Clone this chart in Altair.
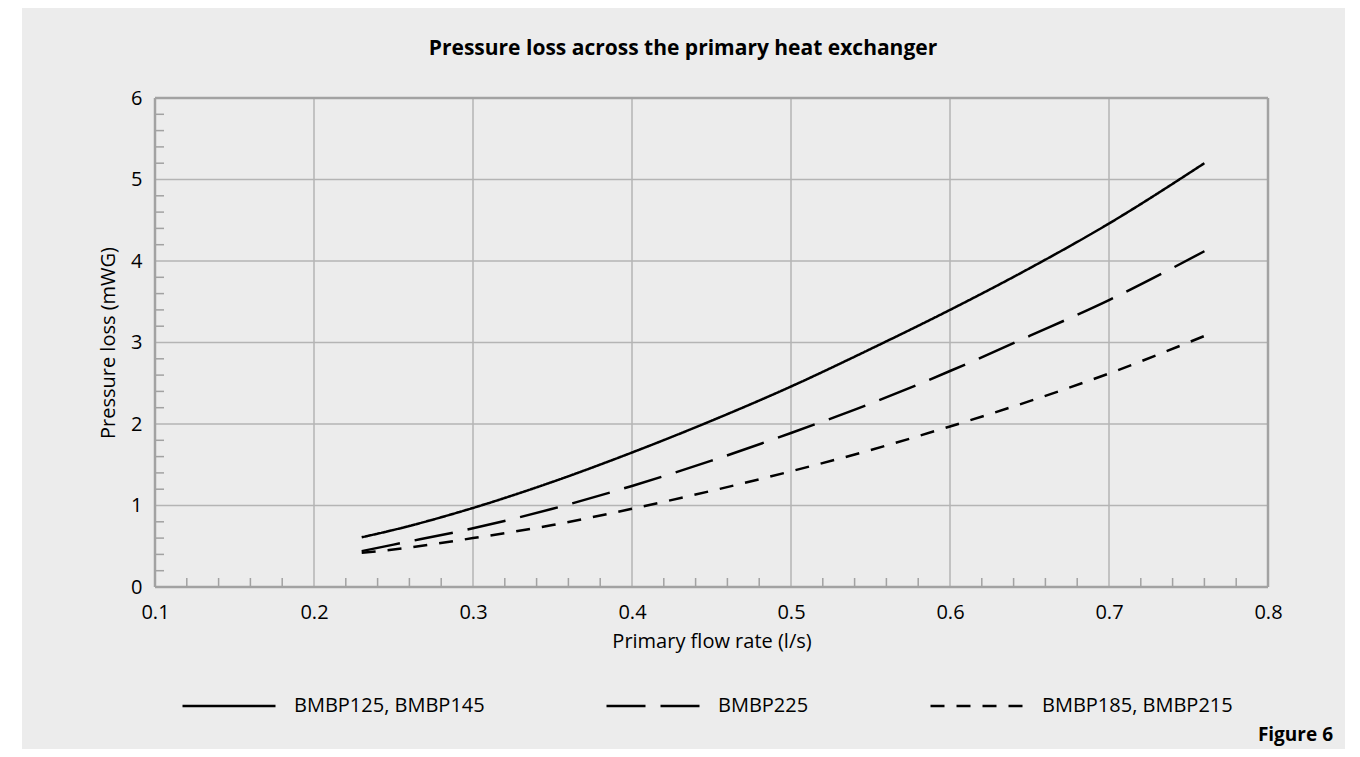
import altair as alt
import pandas as pd

# ---- data ----
flow = [0.23, 0.25, 0.30, 0.35, 0.40, 0.45, 0.50, 0.55, 0.60, 0.65, 0.70, 0.76]
bmbp125_145 = [0.61, 0.70, 0.97, 1.29, 1.65, 2.04, 2.46, 2.92, 3.40, 3.91, 4.46, 5.20]
bmbp225 = [0.44, 0.52, 0.72, 0.96, 1.24, 1.55, 1.89, 2.25, 2.65, 3.08, 3.52, 4.12]
bmbp185_215 = [0.42, 0.46, 0.60, 0.76, 0.96, 1.18, 1.42, 1.68, 1.97, 2.28, 2.62, 3.08]
series_names = ["BMBP125, BMBP145", "BMBP225", "BMBP185, BMBP215"]

x_major = [0.1, 0.2, 0.3, 0.4, 0.5, 0.6, 0.7, 0.8]
y_major = [0, 1, 2, 3, 4, 5, 6]
x_minor = [0.12, 0.14, 0.16, 0.18, 0.22, 0.24, 0.26, 0.28, 0.32, 0.34, 0.36, 0.38,
           0.42, 0.44, 0.46, 0.48, 0.52, 0.54, 0.56, 0.58, 0.62, 0.64, 0.66, 0.68,
           0.72, 0.74, 0.76, 0.78]
y_minor = [0.2, 0.4, 0.6, 0.8, 1.2, 1.4, 1.6, 1.8, 2.2, 2.4, 2.6, 2.8, 3.2, 3.4, 3.6, 3.8,
           4.2, 4.4, 4.6, 4.8, 5.2, 5.4, 5.6, 5.8]

title_text = "Pressure loss across the primary heat exchanger"
x_title = "Primary flow rate (l/s)"
y_title = "Pressure loss (mWG)"
figure_label = "Figure 6"

# ---- layout ----
W, H = 1113, 489
FONT = "Open Sans"
FS = 20
GRID = "#b4b4b4"
FRAME = "#a2a2a2"
PANEL = "#ececec"

rows = []
for name, vals in zip(series_names, [bmbp125_145, bmbp225, bmbp185_215]):
    for xv, yv in zip(flow, vals):
        rows.append({"x": xv, "y": yv, "series": name})
lines_df = pd.DataFrame(rows)

xscale = alt.Scale(domain=[0.1, 0.8], nice=False, zero=False)
yscale = alt.Scale(domain=[0, 6], nice=False, zero=False)

xaxis = alt.Axis(values=x_major, format=".1f", grid=False, ticks=False, tickSize=0,
                 domain=False, labelFlush=False, labelFont=FONT, labelFontSize=FS,
                 labelColor="black", labelPadding=15, titleFont=FONT, titleFontSize=FS,
                 titleFontWeight="normal", titleColor="black", titlePadding=9, zindex=2)
yaxis = alt.Axis(values=y_major, format="d", grid=False, ticks=False, tickSize=0,
                 domain=False, labelFlush=False, labelFont=FONT, labelFontSize=FS,
                 labelColor="black", labelPadding=13, titleFont=FONT, titleFontSize=FS,
                 titleFontWeight="normal", titleColor="black", titlePadding=12, zindex=2)

X = alt.X("x:Q", scale=xscale, axis=xaxis, title=x_title)
Y = alt.Y("y:Q", scale=yscale, axis=yaxis, title=y_title)

one = pd.DataFrame({"k": [0]})

panel = alt.Chart(one).mark_rect(fill=PANEL, clip=False).encode(
    x=alt.value(-133), x2=alt.value(1190), y=alt.value(-90), y2=alt.value(651)
)

vgrid = alt.Chart(pd.DataFrame({"x": x_major[1:-1]})).mark_rule(
    color=GRID, strokeWidth=1.5).encode(x=X)
hgrid = alt.Chart(pd.DataFrame({"y": y_major[1:-1]})).mark_rule(
    color=GRID, strokeWidth=1.5).encode(y=Y)

xminor = alt.Chart(pd.DataFrame({"x": x_minor})).mark_rule(
    color=FRAME, strokeWidth=1.5).encode(x=X, y=alt.value(H), y2=alt.value(H - 9))
yminor = alt.Chart(pd.DataFrame({"y": y_minor})).mark_rule(
    color=FRAME, strokeWidth=1.5).encode(y=Y, x=alt.value(0), x2=alt.value(9))

vframe = alt.Chart(pd.DataFrame({"x": [x_major[0], x_major[-1]]})).mark_rule(
    color=FRAME, strokeWidth=2.5).encode(x=X)
hframe = alt.Chart(pd.DataFrame({"y": [y_major[0], y_major[-1]]})).mark_rule(
    color=FRAME, strokeWidth=2.5).encode(y=Y)

lines = alt.Chart(lines_df).mark_line(
    color="black", strokeWidth=2.5, interpolate="monotone", strokeCap="butt").encode(
    x=X, y=Y,
    strokeDash=alt.StrokeDash(
        "series:N",
        scale=alt.Scale(domain=series_names, range=[[1, 0], [39, 15], [14, 12]]),
        sort=series_names,
        legend=alt.Legend(
            title=None, orient="none", legendX=26, legendY=560,
            direction="horizontal", columns=3, symbolType="stroke",
            symbolSize=93 * 93, symbolStrokeWidth=2.5, symbolStrokeColor="black",
            labelFont=FONT, labelFontSize=FS, labelColor="black", labelOffset=17,
            columnPadding=116, labelLimit=400, zindex=2,
        ),
    ),
)

title = alt.Chart(one).mark_text(
    text=title_text, font=FONT, fontSize=21, fontWeight="bold", color="black",
    align="center", baseline="middle").encode(x=alt.value(528), y=alt.value(-49))

fig = alt.Chart(one).mark_text(
    text=figure_label, font=FONT, fontSize=19, fontWeight="bold", color="black",
    align="right", baseline="alphabetic").encode(x=alt.value(1178), y=alt.value(643))

chart = alt.layer(panel, vgrid, hgrid, xminor, yminor, vframe, hframe, lines, title, fig).properties(
    width=W, height=H,
    autosize=alt.AutoSizeParams(type="none"),
    padding={"left": 147, "top": 90, "right": 84, "bottom": 162},
    background="white",
).configure_view(stroke=None)

chart.save("out.html", embed_options={"renderer": "svg", "actions": False})
